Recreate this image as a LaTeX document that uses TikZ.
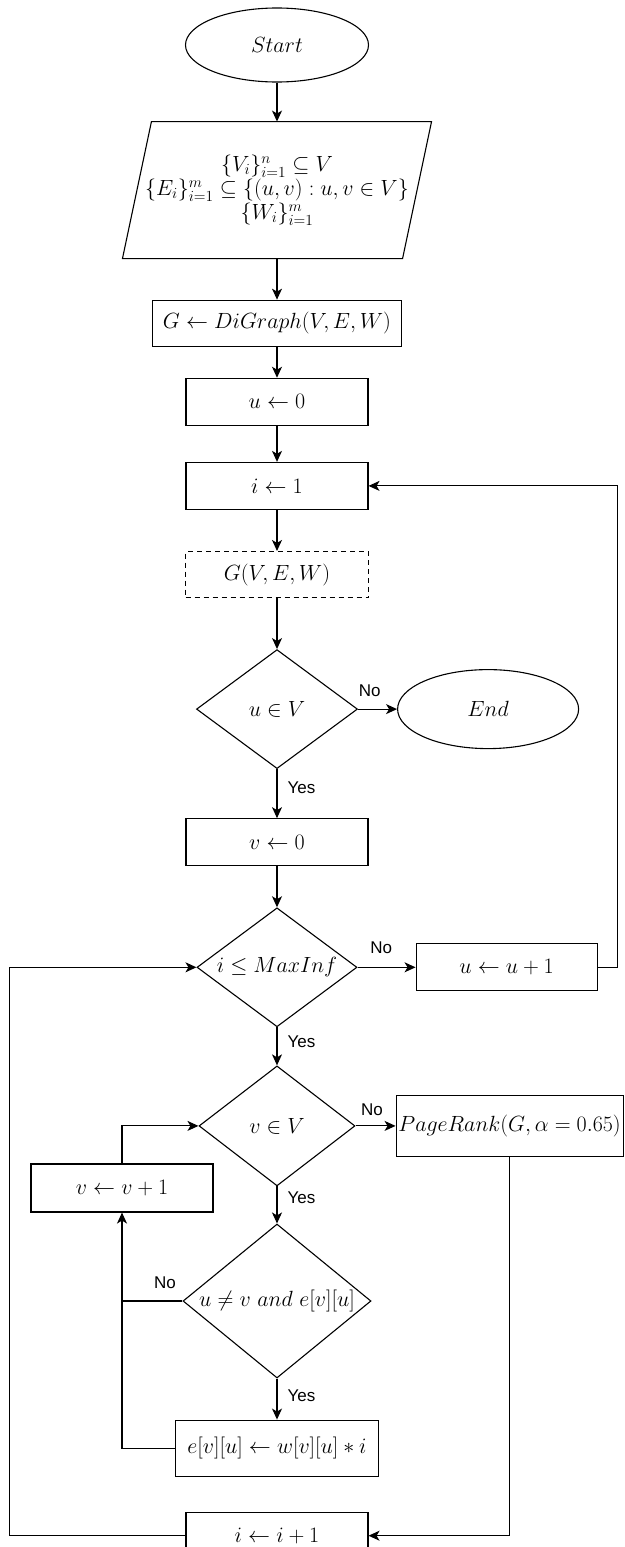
\RequirePackage{fix-cm}
\documentclass[tikz,border=0pt]{standalone}
\usepackage{amsmath,amssymb}
\usepackage{fontspec}
\newfontfamily\lblfont{Liberation Sans}
\usepackage{tikz}
\usetikzlibrary{shapes.geometric,arrows.meta,positioning}

\begin{document}
\begin{tikzpicture}[
  x=1pt, y=-1pt,
  line width=1.1pt,
  every node/.style={font=\fontsize{22}{26}\selectfont},
  proc/.style={rectangle, draw, inner sep=0pt, minimum width=182pt, minimum height=47pt},
  dec/.style={diamond, draw, inner sep=0pt, minimum width=160pt, minimum height=119pt},
  term/.style={ellipse, draw, inner sep=0pt, minimum width=183pt, minimum height=74pt},
  arrow/.style={-{Stealth[length=11pt, width=10pt, inset=3pt]}},
  lbl/.style={font=\lblfont\fontsize{17}{17}\selectfont, inner sep=0pt},
]
  \useasboundingbox (0,0) rectangle (624,1547);

  \node[term] (start) at (277,45) {$Start$};
  \node[rectangle, inner sep=0pt, minimum width=308pt, minimum height=136pt, align=center,
        font=\fontsize{22}{24}\selectfont, below=39pt of start] (in)
        {$\{V_i\}_{i=1}^{n} \subseteq V$\\
         $\{E_i\}_{i=1}^{m} \subseteq \{(u,v) : u,v \in V\}$\\
         $\{W_i\}_{i=1}^{m}$};
  \draw (in.south west) -- ([xshift=-29pt]in.south east) -- (in.north east)
        -- ([xshift=29pt]in.north west) -- cycle;
  \node[proc, minimum width=249pt, minimum height=46pt, below=41pt of in] (graph) {$G \leftarrow DiGraph(V,E,W)$};
  \node[proc, below=31pt of graph] (u0) {$u \leftarrow 0$};
  \node[proc, below=36pt of u0] (i1) {$i \leftarrow 1$};
  \node[proc, dash pattern=on 5pt off 4pt, minimum width=183pt, minimum height=46pt, below=41pt of i1] (gview) {$G(V,E,W)$};
  \node[dec, minimum width=161pt, below=51pt of gview] (uinV) {\makebox[0pt]{$u \in V$}};
  \node[term, minimum width=181pt, minimum height=79pt, right=39pt of uinV] (end) {$End$};
  \node[proc, below=49pt of uinV] (v0) {$v \leftarrow 0$};
  \node[dec, below=41pt of v0] (imax) {\makebox[0pt]{$i \leq MaxInf$}};
  \node[proc, minimum width=181pt, right=58pt of imax] (uinc) {$u \leftarrow u + 1$};
  \node[dec, minimum width=156pt, minimum height=120pt, below=38pt of imax] (vinV) {\makebox[0pt]{$v \in V$}};
  \node[proc, minimum width=227pt, minimum height=61pt, right=40pt of vinV] (pr) {$PageRank(G, \alpha = 0.65)$};
  \node[dec, minimum width=188pt, minimum height=154pt, below=37pt of vinV] (uneq) {\makebox[0pt]{$u \neq v \ and \ e[v][u]$}};
  \node[proc, minimum height=48pt] (vinc) at (122,1188) {$v \leftarrow v + 1$};
  \node[proc, minimum width=203pt, minimum height=56pt, below=41pt of uneq] (ebox) {$e[v][u] \leftarrow w[v][u] * i$};
  \node[proc, below=35pt of ebox] (iinc) {$i \leftarrow i + 1$};

  \draw[arrow] (start) -- (in);
  \draw[arrow] (in) -- (graph);
  \draw[arrow] (graph) -- (u0);
  \draw[arrow] (u0) -- (i1);
  \draw[arrow] (i1) -- (gview);
  \draw[arrow] (gview) -- (uinV);
  \draw[arrow] (uinV) -- node[lbl, above=12pt, pos=0.3] {No} (end);
  \draw[arrow] (uinV) -- node[lbl, right=10pt, pos=0.37] {Yes} (v0);
  \draw[arrow] (v0) -- (imax);
  \draw[arrow] (imax) -- node[lbl, above=13pt, pos=0.41] {No} (uinc);
  \draw[arrow] (uinc.east) -- ++(20,0) |- (i1.east);
  \draw[arrow] (imax) -- node[lbl, right=10pt, pos=0.37] {Yes} (vinV);
  \draw[arrow] (vinV) -- node[lbl, above=10pt, pos=0.41] {No} (pr);
  \draw[arrow] (vinV) -- node[lbl, right=10pt, pos=0.31] {Yes} (uneq);
  \draw[arrow] (uneq) -- node[lbl, right=10pt, pos=0.41] {Yes} (ebox);
  \draw (uneq.west) -- node[lbl, above=12pt, pos=0.29] {No} (uneq.west -| vinc.south);
  \draw[arrow] (ebox.west) -| (vinc.south);
  \draw[arrow] (vinc.north) |- (vinV.west);
  \draw[arrow] (pr.south) |- (iinc.east);
  \draw[arrow] (iinc.west) -- ++(-176,0) |- (imax.west);
\end{tikzpicture}
\end{document}
